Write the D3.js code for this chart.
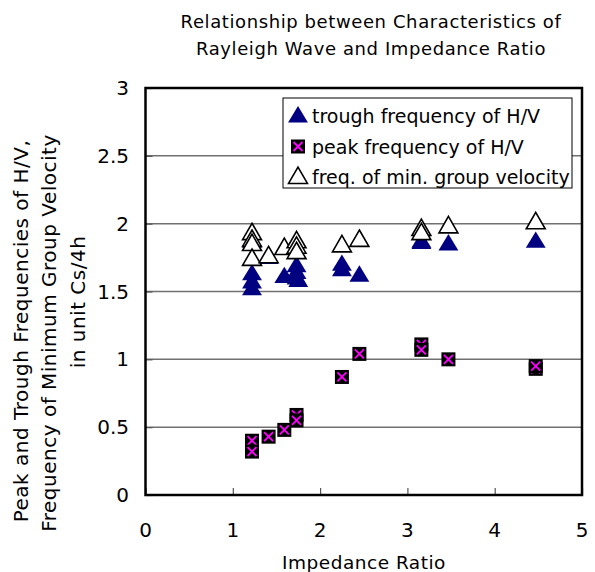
<!DOCTYPE html>
<html>
<head>
<meta charset="utf-8">
<script src="https://cdn.jsdelivr.net/npm/d3@7"></script>
<style>
  body { margin: 0; background: #fff; }
  text { font-family: "DejaVu Sans", sans-serif; fill: #000; }
</style>
</head>
<body>
<script>
// data: [impedance ratio, frequency in Cs/4h]
var trough = [
    [1.22, 1.87], [1.22, 1.63], [1.22, 1.57], [1.22, 1.52],
    [1.41, 1.75], [1.59, 1.61],
    [1.73, 1.69], [1.73, 1.64], [1.73, 1.60], [1.75, 1.58],
    [2.25, 1.70], [2.25, 1.66], [2.45, 1.62],
    [3.16, 1.87], [3.16, 1.86], [3.47, 1.85], [4.47, 1.87]
];
var peak = [
    [1.22, 0.40], [1.22, 0.32], [1.41, 0.43], [1.59, 0.48],
    [1.73, 0.59], [1.73, 0.55], [2.25, 0.87], [2.45, 1.04],
    [3.16, 1.11], [3.16, 1.07], [3.47, 1.00], [4.47, 0.93], [4.47, 0.95]
];
var minGroup = [
    [1.22, 1.93], [1.22, 1.88], [1.22, 1.85], [1.22, 1.74],
    [1.41, 1.76], [1.59, 1.82],
    [1.73, 1.87], [1.73, 1.83], [1.73, 1.79],
    [2.25, 1.84], [2.45, 1.88],
    [3.16, 1.96], [3.16, 1.93], [3.47, 1.98], [4.47, 2.01]
];
var xTicks = [0, 1, 2, 3, 4, 5];
var yTicks = [0, 0.5, 1, 1.5, 2, 2.5, 3];
var legendLabels = ["trough frequency of H/V", "peak frequency of H/V", "freq. of min. group velocity"];

var w = 595, h = 572;
var pLeft = 145.5, pRight = 582, pTop = 88, pBottom = 495;

var svg = d3.select("body").append("svg")
    .attr("width", w)
    .attr("height", h);

var xScale = d3.scaleLinear().domain([0, 5]).range([pLeft, pRight]);
var yScale = d3.scaleLinear().domain([0, 3]).range([pBottom, pTop]);

// gridlines
svg.append("g")
    .selectAll("line")
    .data(yTicks.slice(1, -1))
    .enter().append("line")
    .attr("x1", pLeft).attr("x2", pRight)
    .attr("y1", function(d) { return yScale(d); })
    .attr("y2", function(d) { return yScale(d); })
    .attr("stroke", "#707070")
    .attr("stroke-width", 1.5);

// axes, ticks pointing into the plot
var xAxis = d3.axisTop(xScale).tickValues(xTicks).tickSize(7).tickFormat("");
var yAxis = d3.axisRight(yScale).tickValues(yTicks).tickSize(7).tickFormat("");

svg.append("g")
    .attr("transform", "translate(0," + pBottom + ")")
    .call(xAxis)
    .call(function(g) { g.select(".domain").remove(); })
    .selectAll("line").attr("stroke", "#555").attr("stroke-width", 1.2);

svg.append("g")
    .attr("transform", "translate(" + pLeft + ",0)")
    .call(yAxis)
    .call(function(g) { g.select(".domain").remove(); })
    .selectAll("line").attr("stroke", "#555").attr("stroke-width", 1.2);

// tick labels
svg.append("g")
    .selectAll("text")
    .data(xTicks)
    .enter().append("text")
    .attr("x", function(d) { return xScale(d); })
    .attr("y", 537)
    .attr("text-anchor", "middle")
    .attr("font-size", "20px")
    .text(function(d) { return d; });

svg.append("g")
    .selectAll("text")
    .data(yTicks)
    .enter().append("text")
    .attr("x", 129)
    .attr("y", function(d) { return yScale(d) + 7; })
    .attr("text-anchor", "end")
    .attr("font-size", "20px")
    .text(function(d) { return d; });

// frame
svg.append("rect")
    .attr("x", pLeft).attr("y", pTop)
    .attr("width", pRight - pLeft).attr("height", pBottom - pTop)
    .attr("fill", "none")
    .attr("stroke", "#000")
    .attr("stroke-width", 2.5);

// markers
var tri = d3.symbol().type(d3.symbolTriangle).size(155);

function drawTrough(sel) {
    sel.append("path").attr("d", tri)
        .attr("transform", "translate(0,1) scale(1.05,1)")
        .attr("fill", "#000080");
}
function drawPeak(sel) {
    sel.append("rect").attr("x", -7).attr("y", -7).attr("width", 14).attr("height", 14)
        .attr("fill", "#000");
    sel.append("path").attr("d", "M-4.5,-4.5L4.5,4.5M4.5,-4.5L-4.5,4.5")
        .attr("stroke", "#ff00ff").attr("stroke-width", 1.8);
}
function drawMin(sel) {
    sel.append("path").attr("d", tri)
        .attr("transform", "translate(0,1)")
        .attr("fill", "#fff")
        .attr("stroke", "#000")
        .attr("stroke-width", 1.6);
}

function plot(data, drawer) {
    svg.append("g")
        .selectAll("g")
        .data(data)
        .enter().append("g")
        .attr("transform", function(d) {
            return "translate(" + xScale(d[0]) + "," + yScale(d[1]) + ")";
        })
        .each(function() { drawer(d3.select(this)); });
}
plot(trough, drawTrough);
plot(peak, drawPeak);
plot(minGroup, drawMin);

// legend
var legend = svg.append("g");
legend.append("rect")
    .attr("x", 283).attr("y", 98)
    .attr("width", 289).attr("height", 90)
    .attr("fill", "#fff")
    .attr("stroke", "#000")
    .attr("stroke-width", 1);

var drawers = [drawTrough, drawPeak, drawMin];
legendLabels.forEach(function(lab, i) {
    var g = legend.append("g").attr("transform", "translate(0," + (116 + i * 30.5) + ")");
    var m = g.append("g").attr("transform", "translate(298,0)");
    drawers[i](m);
    g.append("text")
        .attr("x", 312)
        .attr("y", 7)
        .attr("font-size", "19px")
        .text(lab);
});

// titles
svg.append("text")
    .attr("x", 371).attr("y", 28)
    .attr("text-anchor", "middle")
    .attr("font-size", "18px")
    .attr("letter-spacing", "0.6px")
    .text("Relationship between Characteristics of");
svg.append("text")
    .attr("x", 371).attr("y", 55)
    .attr("text-anchor", "middle")
    .attr("font-size", "18px")
    .attr("letter-spacing", "0.6px")
    .text("Rayleigh Wave and Impedance Ratio");

svg.append("text")
    .attr("x", 364).attr("y", 569)
    .attr("text-anchor", "middle")
    .attr("font-size", "18.5px")
    .attr("letter-spacing", "0.5px")
    .text("Impedance Ratio");

var yTitle = [
    ["Peak and Trough Frequencies of H/V,", 28, 331],
    ["Frequency of Minimum Group Velocity", 56, 333],
    ["in unit Cs/4h", 85, 302]
];
yTitle.forEach(function(t) {
    svg.append("text")
        .attr("transform", "translate(" + t[1] + "," + t[2] + ") rotate(-90)")
        .attr("text-anchor", "middle")
        .attr("font-size", "20px")
        .attr("letter-spacing", "0.5px")
        .text(t[0]);
});
</script>
</body>
</html>
